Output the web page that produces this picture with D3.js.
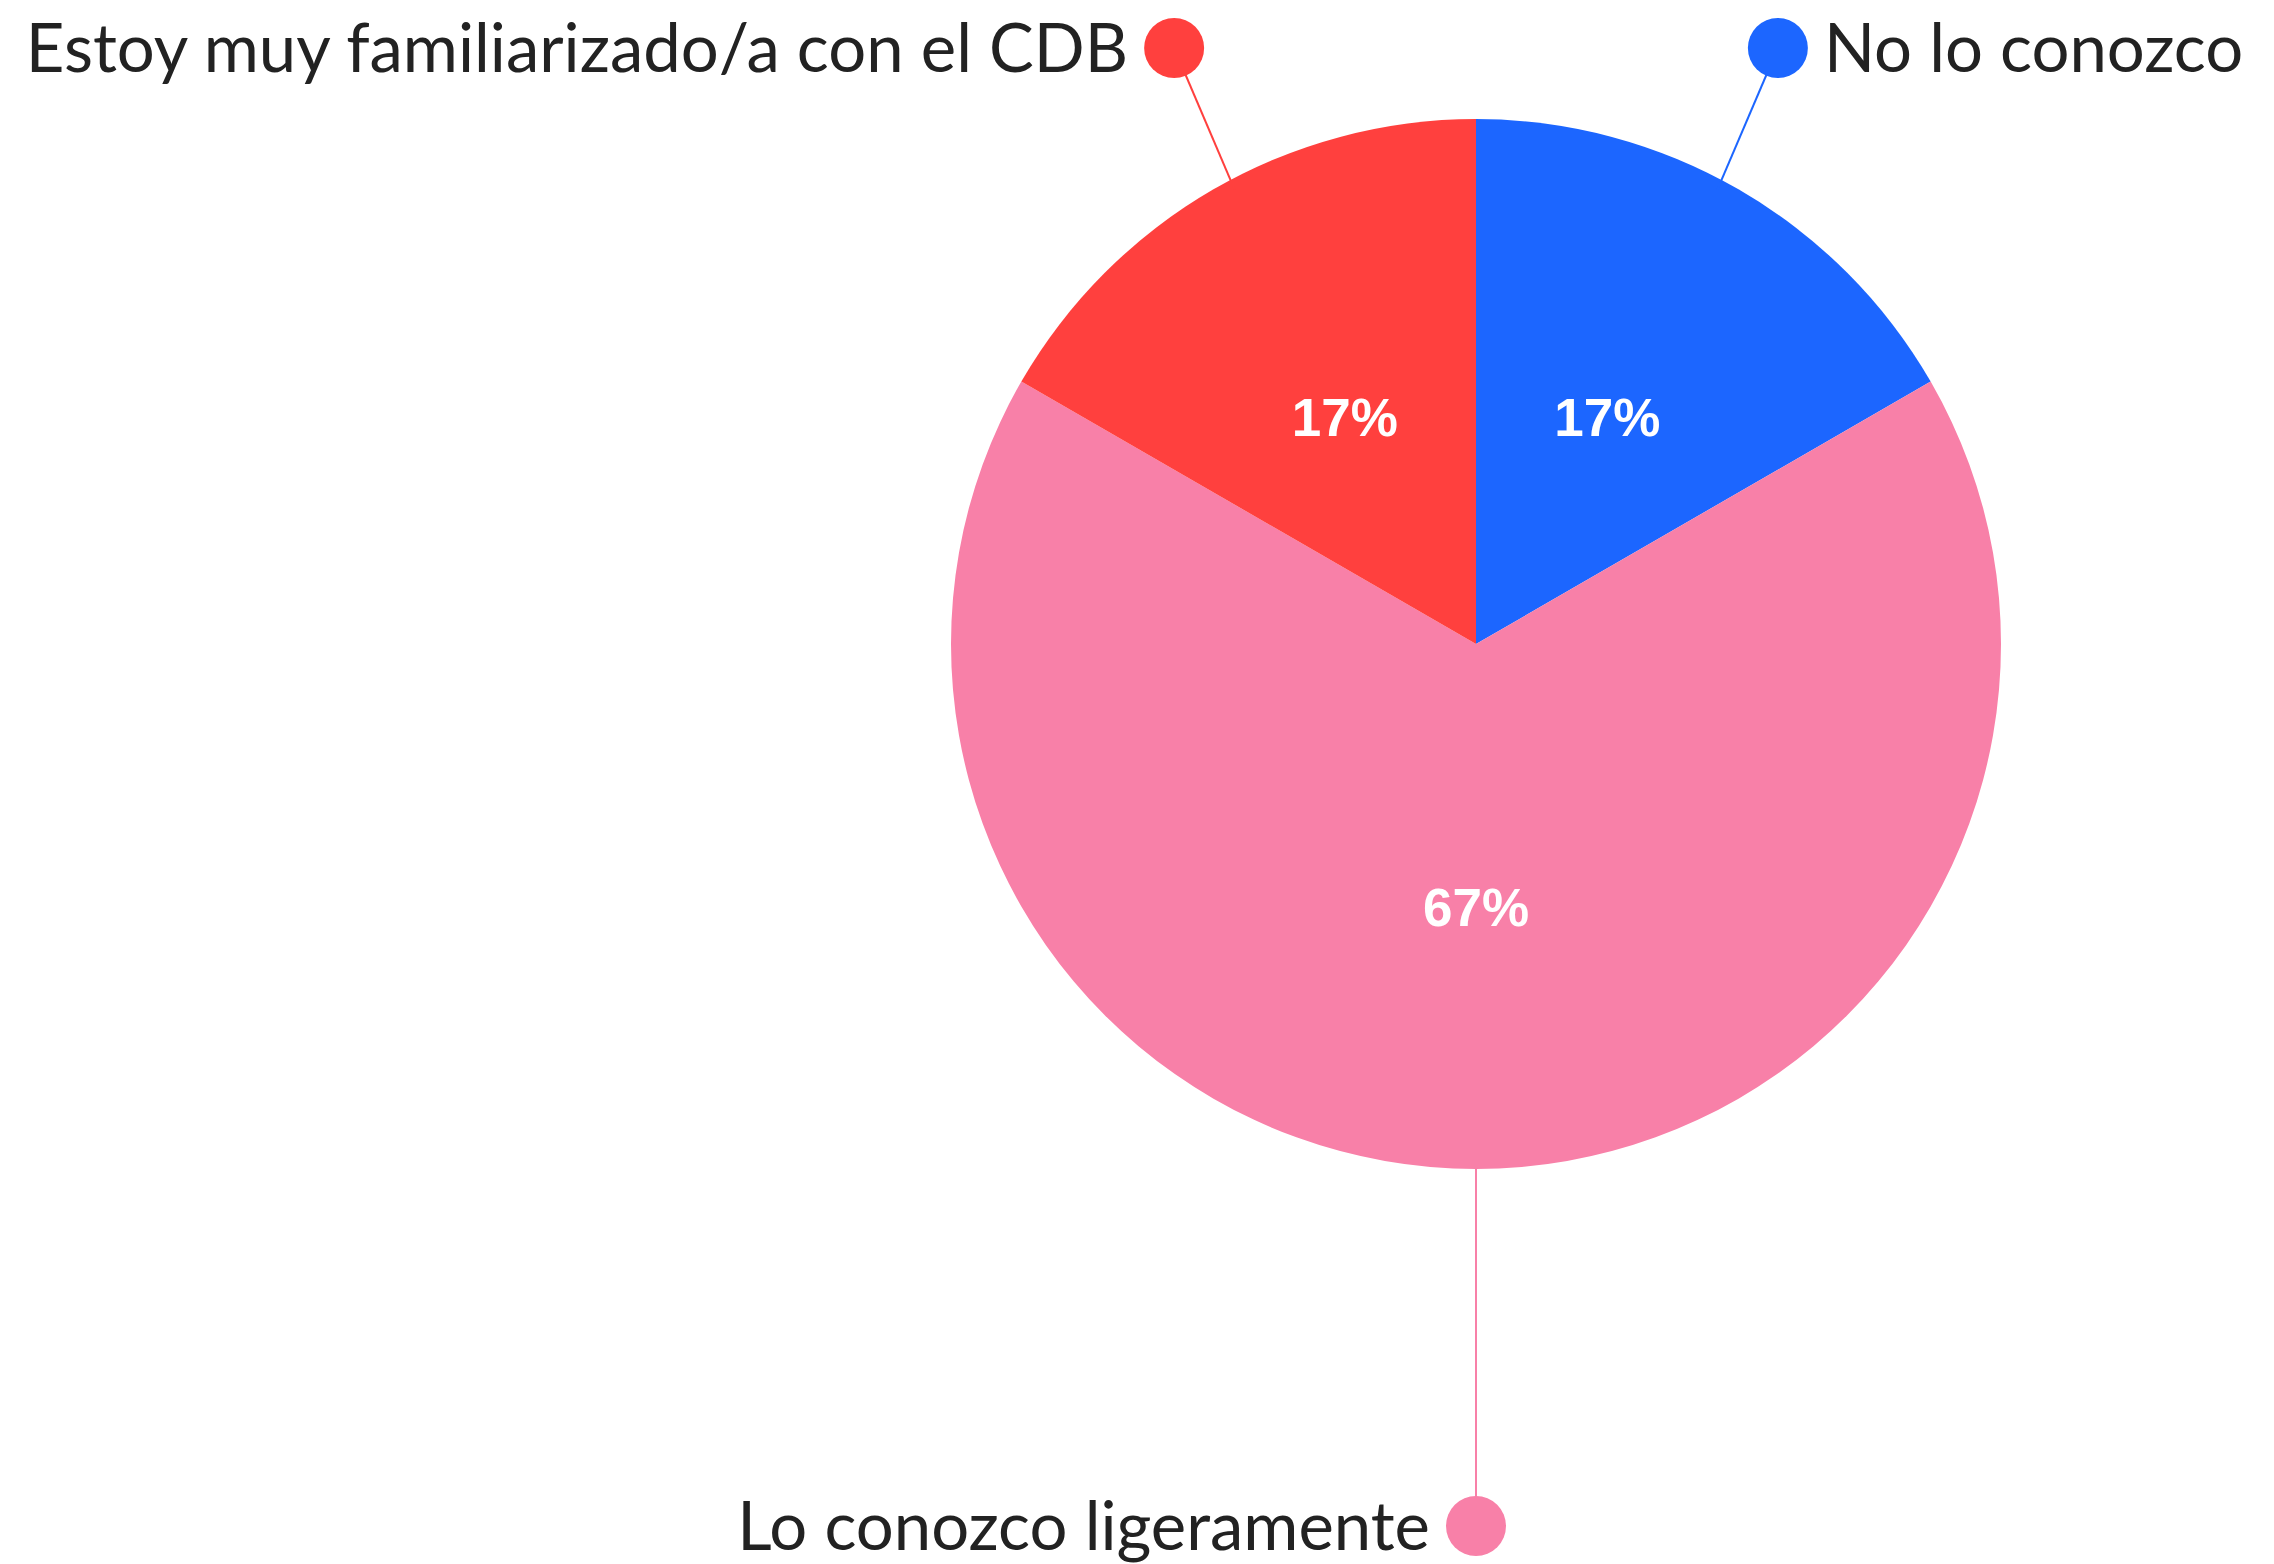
<!DOCTYPE html>
<html>
<head>
<meta charset="utf-8">
<script src="https://cdn.jsdelivr.net/npm/d3@7"></script>
<style>
  html, body { margin: 0; padding: 0; background: #fff; }
  svg { display: block; }
</style>
</head>
<body>
<svg id="chart"></svg>
<script>
// data (slices clockwise from 12 o'clock)
const categories = ['No lo conozco', 'Lo conozco ligeramente', 'Estoy muy familiarizado/a con el CDB'];
const values = [1, 4, 1];
const colors = ['#1c66ff', '#f880a8', '#ff403e'];

const width = 2274
  , height = 1564
  , cx = 1476
  , cy = 644
  , radius = 525;

const svg = d3.select('#chart')
  .attr('width', width)
  .attr('height', height);

const g = svg.append('g').attr('transform', 'translate(' + cx + ',' + cy + ')');

const total = d3.sum(values);
const pie = d3.pie().sort(null).value(d => d.value);
const arcs = pie(categories.map((c, i) => ({name: c, value: values[i], color: colors[i]})));

const arc = d3.arc().innerRadius(0).outerRadius(radius);
const edgeArc = d3.arc().innerRadius(radius).outerRadius(radius);

g.selectAll('path.slice')
  .data(arcs)
  .enter()
  .append('path')
  .attr('class', 'slice')
  .attr('d', arc)
  .attr('fill', d => d.data.color);

// percentages
g.selectAll('text.pct')
  .data(arcs)
  .enter()
  .append('text')
  .attr('class', 'pct')
  .attr('transform', d => 'translate(' + arc.centroid(d) + ')')
  .attr('text-anchor', 'middle')
  .attr('dy', '0.36em')
  .style('font', 'bold 53px "Liberation Sans", Arial, sans-serif')
  .style('fill', '#fff')
  .text(d => Math.round(d.data.value / total * 100) + '%');

// leader lines + dots + names
const topY = 48 - cy
  , bottomY = 1526 - cy;

function dotPos(d) {
  const p = edgeArc.centroid(d);
  return p[1] < 0 ? [p[0] * 1.15, topY] : [p[0], bottomY];
}

function onRight(d) {
  return dotPos(d)[0] > 1;
}

const labels = g.selectAll('g.label')
  .data(arcs)
  .enter()
  .append('g')
  .attr('class', 'label');

labels.append('line')
  .attr('x1', d => edgeArc.centroid(d)[0] * 0.92)
  .attr('y1', d => edgeArc.centroid(d)[1])
  .attr('x2', d => dotPos(d)[0])
  .attr('y2', d => dotPos(d)[1])
  .attr('stroke', d => d.data.color)
  .attr('stroke-width', 2);

labels.append('circle')
  .attr('cx', d => dotPos(d)[0])
  .attr('cy', d => dotPos(d)[1])
  .attr('r', 30)
  .attr('fill', d => d.data.color);

labels.append('text')
  .attr('x', d => {
    const p = dotPos(d);
    return onRight(d) ? p[0] + 46 : p[0] - 46;
  })
  .attr('y', d => dotPos(d)[1] + 24)
  .attr('text-anchor', d => onRight(d) ? 'start' : 'end')
  .style('font', '67px Lato, "Open Sans", sans-serif')
  .style('fill', '#222')
  .text(d => d.data.name);
</script>
</body>
</html>
